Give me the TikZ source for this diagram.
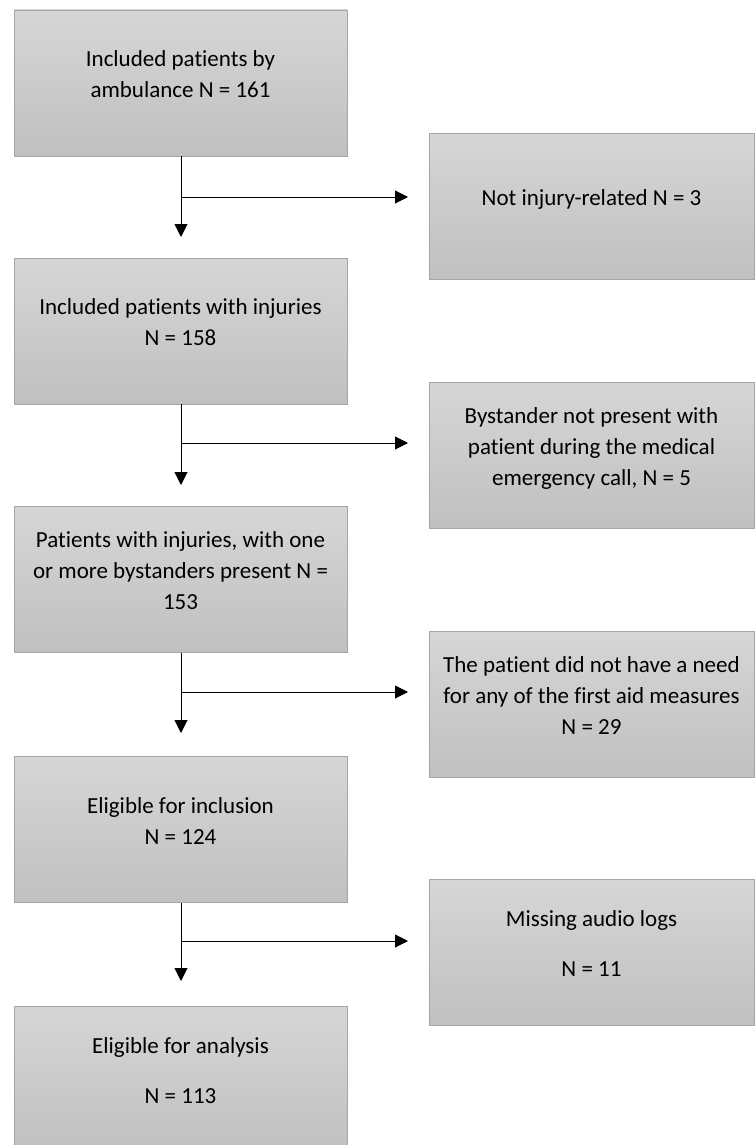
\documentclass[tikz,border=0pt]{standalone}
\usepackage{fontspec}
\setmainfont[Ligatures={NoCommon,NoRequired,NoContextual}]{Carlito}
\usetikzlibrary{arrows.meta}
\definecolor{boxtop}{RGB}{214,214,214}
\definecolor{boxbot}{RGB}{192,192,192}
\definecolor{boxline}{RGB}{165,165,165}
\begin{document}
\begin{tikzpicture}[x=1pt, y=-1pt,
  box/.style={rectangle, draw=boxline, line width=0.8pt, top color=boxtop, bottom color=boxbot,
    minimum width=333pt, minimum height=146pt, align=center,
    font=\fontsize{23}{31}\selectfont, text depth=17pt},
  side/.style={box, minimum width=325pt},
  flow/.style={-{Triangle[width=13pt,length=13pt]}, line width=1pt}]

\useasboundingbox (0,0) rectangle (755,1145);
\clip (0,0) rectangle (755,1145);

% Main column
\node[box] (L1) at (180.5,83) {Included patients by\\ambulance N = 161};
\node[box] (L2) at (180.5,331) {Included patients with injuries\\N = 158};
\node[box] (L3) at (180.5,579.5) {Patients with injuries, with one\\or more bystanders present N =\\153};
\node[box] (L4) at (180.5,829.5) {Eligible for inclusion\\N = 124};
\node[box] (L5) at (180.5,1079) {Eligible for analysis\\[19pt]N = 113};

% Exclusions
\node[side] (R1) at (591.5,206.5) {Not injury-related N = 3};
\node[side] (R2) at (591.5,455) {Bystander not present with\\patient during the medical\\emergency call, N = 5};
\node[side] (R3) at (591.5,704.5) {The patient did not have a need\\for any of the first aid measures\\N = 29};
\node[side] (R4) at (591.5,952.5) {Missing audio logs\\[19pt]N = 11};

% Arrow ends
\coordinate (d1) at (181,237); \coordinate (b1) at (181,197); \coordinate (e1) at (408,197);
\coordinate (d2) at (181,485); \coordinate (b2) at (181,443); \coordinate (e2) at (408,443);
\coordinate (d3) at (181,733); \coordinate (b3) at (181,692); \coordinate (e3) at (408,692);
\coordinate (d4) at (181,981); \coordinate (b4) at (181,941); \coordinate (e4) at (408,941);

% Connections
\foreach \i in {1,2,3,4} {
  \draw[flow] (L\i.south -| d\i) -- (d\i);
  \draw[flow] (b\i) -- (e\i);
}

\end{tikzpicture}
\end{document}
